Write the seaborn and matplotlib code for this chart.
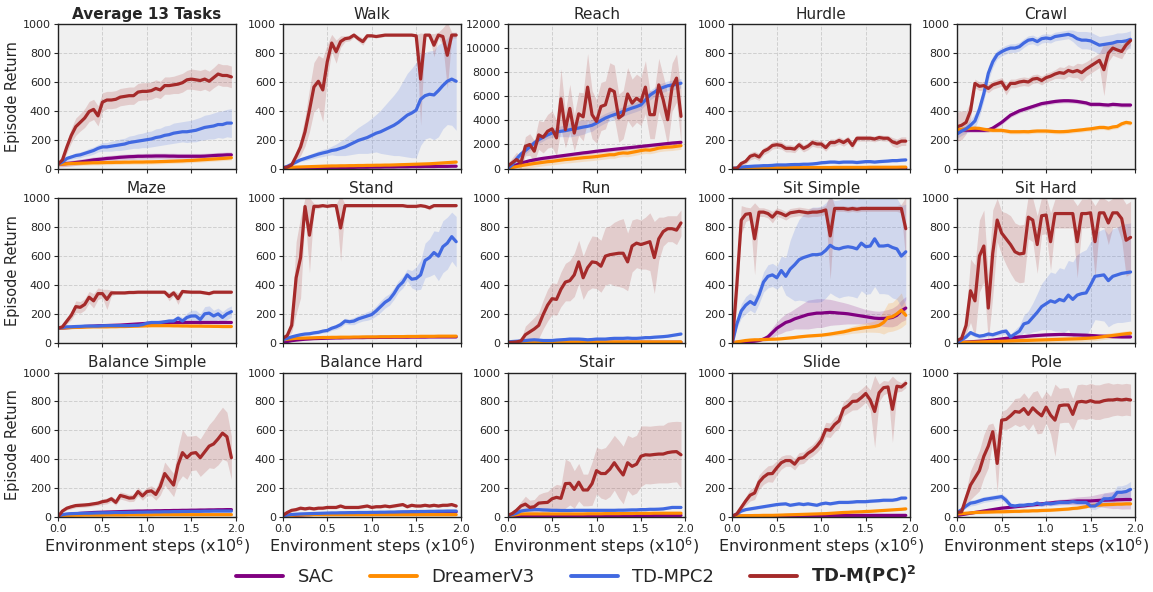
import numpy as np
import matplotlib
matplotlib.use("Agg")
import matplotlib.pyplot as plt
from matplotlib.lines import Line2D
import seaborn as sns

steps = np.linspace(0, 1.95, 40)
methods = ["SAC", "DreamerV3", "TD-MPC2", r"TD-M(PC)$^{\mathbf{2}}$"]
colors = ["#800080", "#ff8c00", "#4169e1", "#a52a2a"]
titles = ["Average 13 Tasks", "Walk", "Reach", "Hurdle", "Crawl",
          "Maze", "Stand", "Run", "Sit Simple", "Sit Hard",
          "Balance Simple", "Balance Hard", "Stair", "Slide", "Pole"]

# ---------------- Average 13 Tasks ----------------
avg_red = [30,60,150,230,290,320,350,395,410,365, 460,475,475,480,495,500,505,505,530,535,
           535,540,555,545,575,575,580,585,595,615, 620,615,610,620,605,630,655,645,645,635]
avg_red_err = [10,20,40,50,60,60,65,70,70,70, 65,60,60,60,60,60,60,60,60,60,
               60,60,60,60,60,60,60,65,65,65, 70,70,70,70,70,70,75,75,75,75]
avg_blue = [30,45,70,80,90,95,105,115,125,140, 150,150,155,160,165,170,180,185,190,195,
            200,205,215,220,230,235,245,250,255,255, 260,265,275,285,290,295,305,305,315,315]
avg_blue_err = [5,10,15,15,20,20,20,25,25,25, 30,30,35,35,40,40,45,45,50,50,
                55,55,60,60,65,65,70,70,70,75, 75,80,80,85,85,90,90,95,95,100]
avg_purple = [30,32,35,38,42,46,50,55,60,63, 66,70,72,75,78,80,82,83,85,85,
              86,86,87,87,87,86,86,85,85,85, 85,85,85,86,88,90,92,93,95,95]
avg_purple_err = 20
avg_orange = [30,31,33,35,36,37,38,39,40,40, 41,42,42,43,43,44,44,45,45,45,
              46,46,47,48,49,50,51,52,53,55, 56,58,60,62,64,66,68,70,72,75]
avg_orange_err = 15

# ---------------- Walk ----------------
walk_red = [5,10,25,85,150,255,405,565,605,545, 740,870,810,880,900,905,925,900,880,920,
            920,915,920,925,925,925,925,925,925,925, 920,620,925,925,855,925,915,785,925,925]
walk_red_err = [3,5,10,30,60,100,150,170,180,220, 120,60,80,40,20,20,15,20,25,15,
                10,10,10,10,10,10,10,10,10,10, 10,320,10,10,80,20,60,230,20,20]
walk_blue = [5,15,30,45,60,70,80,90,100,108, 115,125,130,140,150,165,180,195,205,215,
             230,245,255,270,285,300,320,345,370,385, 405,480,505,515,510,540,575,605,620,605]
walk_blue_err = [3,5,8,10,12,15,18,20,22,25, 25,30,40,50,60,70,80,90,100,110,
                 120,130,150,170,190,210,230,260,290,310, 330,320,300,300,310,320,300,300,320,340]
walk_purple = [3,3,4,4,4,5,5,5,6,6, 6,7,7,7,8,8,8,9,9,9,
               10,10,10,11,11,11,12,12,12,13, 13,13,14,14,14,15,15,15,16,16]
walk_purple_err = 3
walk_orange = [5,6,8,10,11,12,13,14,15,16, 17,18,18,19,19,20,20,21,21,22,
               22,23,23,24,24,25,26,27,28,29, 30,31,32,33,35,37,39,41,43,45]
walk_orange_err = 10

# ---------------- Reach ----------------
reach_red = [200,470,750,470,1850,2000,1440,2800,2600,3100, 3300,2550,5800,3230,5000,2950,4550,4300,6770,4480,
             3920,5160,5300,6600,6400,4200,4480,6200,5440,5850, 5580,6770,4480,4480,6960,5720,4060,6770,7520,4340]
reach_red_err = [200,400,600,500,800,900,900,1200,1300,1400, 1500,1500,2500,1500,2000,1500,1800,2000,2800,2000,
                 1800,2000,2000,2200,2200,2000,2000,2200,2000,2000, 2000,2200,2000,2000,2200,2000,2200,2000,2000,2200]
reach_blue = [0,300,800,1200,1500,1800,2130,2400,2600,2800, 2950,3050,3100,3150,3230,3300,3370,3450,3510,3600,
              3780,4000,4200,4350,4480,4600,4750,4900,5030,5150, 5300,5700,6100,6350,6600,6750,6880,6950,7000,7100]
reach_blue_err = [100,200,300,300,300,300,300,300,300,300, 350,400,450,500,600,600,600,600,500,500,
                  400,400,400,400,400,400,400,400,400,400, 400,400,400,400,400,400,400,400,400,400]
reach_purple = [0,150,300,450,550,650,720,790,850,900, 950,1000,1050,1100,1150,1200,1250,1300,1340,1390,
                1440,1480,1520,1560,1600,1640,1680,1720,1760,1800, 1840,1880,1920,1960,2000,2040,2080,2120,2150,2180]
reach_purple_err = 150
reach_orange = [0,80,160,240,300,360,420,470,520,570, 600,650,700,750,780,820,860,900,930,960,
                1000,1050,1100,1150,1150,1250,1300,1280,1350,1420, 1500,1550,1530,1600,1700,1750,1780,1800,1850,1900]
reach_orange_err = 300

# ---------------- Hurdle ----------------
hurdle_red = [0,0,35,50,85,95,80,120,135,160, 165,160,140,140,135,165,140,155,180,170,
              170,145,180,180,195,180,200,160,210,210, 210,210,205,215,210,210,185,175,190,190]
hurdle_red_err = [2,5,15,20,25,25,25,25,25,25, 25,25,25,25,25,25,25,25,25,25,
                  25,25,25,25,25,25,25,25,20,20, 20,20,20,20,20,20,30,30,30,30]
hurdle_blue = [0,5,10,13,15,17,18,20,20,22, 25,25,25,27,28,28,30,30,32,35,
               40,42,45,45,42,45,45,45,42,45, 48,48,45,48,50,52,55,55,58,60]
hurdle_blue_err = 10
hurdle_purple = [1,2,2,2,3,3,3,3,3,3, 3,3,3,3,3,3,3,3,3,3,
                 3,3,3,3,3,3,3,3,3,3, 3,3,3,3,3,3,3,3,3,3]
hurdle_purple_err = 2
hurdle_orange = [2,3,4,5,5,5,5,5,5,5, 6,6,6,6,6,6,7,7,7,7,
                 7,7,7,8,8,8,8,8,8,8, 8,9,9,9,9,9,9,9,10,10]
hurdle_orange_err = 3

# ---------------- Crawl ----------------
crawl_red = [290,300,320,400,590,570,575,555,580,590, 600,550,590,590,600,605,600,620,625,610,
             630,640,655,665,660,680,670,680,665,690, 710,730,750,685,800,835,822,811,857,887]
crawl_red_err = [100,100,80,60,30,30,30,30,30,30, 30,40,30,30,30,30,30,30,30,30,
                 30,30,30,40,40,40,40,50,60,50, 50,50,50,180,60,50,50,50,40,30]
crawl_blue = [240,260,275,300,330,410,520,660,740,790, 810,825,835,835,845,870,890,895,880,900,
              905,900,915,920,925,930,920,900,890,890, 885,870,855,860,865,870,880,880,885,895]
crawl_blue_err = [30,30,30,40,50,50,50,50,40,30, 30,30,30,30,30,30,30,30,30,30,
                  30,30,30,30,30,30,40,50,60,60, 60,60,60,60,60,60,60,60,60,60]
crawl_purple = [270,268,266,265,265,265,265,268,280,300, 320,345,370,385,400,410,420,430,440,450,
                455,460,465,468,470,470,468,465,460,455, 445,445,445,442,440,445,443,440,440,440]
crawl_purple_err = 15
crawl_orange = [270,272,275,278,280,278,272,268,265,265, 265,260,255,255,255,256,255,258,260,260,
                260,258,256,255,256,258,262,265,268,272, 275,280,285,285,280,288,292,310,320,315]
crawl_orange_err = 15

# ---------------- Maze ----------------
maze_red = [100,110,150,190,250,245,265,315,290,340, 340,300,345,345,345,345,348,348,350,350,
            350,350,350,350,350,320,345,305,355,352, 350,350,350,345,340,350,350,350,350,350]
maze_red_err = [5,10,20,30,40,40,40,40,50,40, 30,70,20,10,10,10,10,10,10,10,
                10,10,10,10,10,30,20,40,15,10, 10,10,10,10,10,10,10,10,10,10]
maze_blue = [100,105,110,110,112,113,115,115,115,115, 117,118,118,118,118,118,118,120,120,125,
             135,140,140,140,145,150,150,170,150,175, 185,185,160,200,205,185,200,175,200,215]
maze_blue_err = [5,5,5,5,5,5,5,5,5,5, 5,5,5,5,5,5,5,8,8,10,
                 10,12,12,12,15,15,20,20,25,30, 40,40,40,50,50,40,40,40,40,40]
maze_purple = [100,102,104,106,108,110,112,114,115,117, 118,119,120,121,122,124,126,128,130,132,
               134,136,138,140,140,140,140,140,140,140, 140,140,140,140,140,140,140,140,140,140]
maze_purple_err = 8
maze_orange = [100,102,104,105,106,107,108,109,110,110, 110,110,111,111,112,112,113,114,115,116,
               117,118,118,118,118,118,117,117,116,116, 115,115,115,114,114,113,113,112,112,112]
maze_orange_err = 8

# ---------------- Stand ----------------
stand_red = [30,50,120,450,590,944,745,945,945,950, 945,950,950,795,950,950,950,950,950,950,
             950,950,950,950,950,950,950,950,945,945, 945,950,945,935,950,950,950,950,950,950]
stand_red_err = [5,10,50,250,280,60,260,20,15,10, 10,10,10,230,10,10,10,10,10,10,
                 10,10,10,10,10,10,10,10,10,10, 10,10,10,15,10,10,10,10,10,10]
stand_blue = [20,30,40,48,55,60,62,68,72,80, 85,100,110,125,150,145,150,165,175,185,
              195,220,250,280,300,340,390,420,470,440, 445,470,570,590,625,600,665,690,735,700]
stand_blue_err = [5,8,10,10,10,10,10,10,12,12, 15,15,18,20,20,20,25,25,25,30,
                  30,35,40,40,40,40,40,40,40,60, 80,100,120,130,150,170,180,180,170,175]
stand_purple = [0,8,14,18,21,24,26,28,29,30, 31,32,33,33,34,34,35,35,35,36,
                36,36,37,37,37,38,38,38,38,39, 39,39,39,40,40,40,40,40,40,40]
stand_purple_err = 5
stand_orange = [20,24,27,30,31,32,33,34,35,36, 36,37,37,38,38,38,39,39,40,40,
                40,40,41,41,41,42,42,42,43,43, 43,44,44,44,44,45,45,45,45,45]
stand_orange_err = 5

# ---------------- Run ----------------
run_red = [0,2,5,12,55,75,95,120,195,260, 305,300,370,420,430,470,560,450,520,560,
           555,530,600,610,615,620,620,560,670,690, 680,690,700,590,720,770,790,790,780,830]
run_red_err = [1,2,3,10,60,70,80,90,100,110, 110,110,120,130,140,150,150,150,160,180,
               180,180,200,200,220,230,240,200,180,170, 170,180,200,250,150,100,90,90,100,90]
run_blue = [5,8,10,12,15,18,20,18,15,15, 15,18,20,22,25,25,25,23,20,22,
            25,25,25,28,30,30,30,32,30,30, 32,35,35,38,40,42,45,50,55,60]
run_blue_err = 8
run_purple = [1,2,2,2,2,3,3,3,3,3, 3,3,3,3,3,3,3,3,3,3,
              3,3,3,3,3,3,3,3,3,3, 3,3,3,3,3,3,3,3,3,3]
run_purple_err = 2
run_orange = [3,3,3,4,4,4,4,5,5,5, 5,5,5,5,5,5,5,5,5,5,
              5,5,5,5,5,5,5,5,5,5, 5,5,5,5,5,5,5,5,5,5]
run_orange_err = 2

# ---------------- Sit Simple ----------------
ss_red = [0,400,850,890,895,720,905,905,895,870, 905,895,880,900,905,910,905,900,905,905,
          910,920,740,930,930,930,925,930,925,930, 930,930,930,930,930,930,930,930,930,790]
ss_red_err = [5,150,100,50,40,250,30,30,30,40, 30,30,30,30,30,30,30,30,30,30,
              30,30,300,20,20,20,20,20,20,20, 20,20,20,20,20,20,20,20,30,220]
ss_blue = [0,130,220,260,285,265,330,420,460,470, 450,500,460,510,540,575,590,600,610,610,
           615,640,675,655,650,660,665,660,650,690, 665,670,720,670,670,675,660,650,600,630]
ss_blue_err = [5,30,50,60,60,60,60,70,80,80, 80,100,130,200,250,280,300,320,330,330,
               330,330,330,330,340,340,340,340,340,330, 330,330,330,330,330,340,350,350,350,330]
ss_purple = [0,2,4,6,8,10,15,25,40,70, 100,120,140,150,165,175,185,195,200,205,
             205,208,210,208,205,203,200,195,190,185, 180,175,170,168,168,170,175,190,220,240]
ss_purple_err = [2,2,3,3,4,5,8,15,25,35, 45,55,60,65,70,80,90,100,100,100,
                 100,95,90,85,80,75,70,65,60,55, 50,50,50,50,55,60,65,70,75,80]
ss_orange = [0,5,10,15,18,20,20,22,23,24, 25,27,30,33,36,40,43,46,48,50,
             52,56,60,65,70,75,82,90,95,100, 105,108,112,120,140,175,180,200,225,190]
ss_orange_err = [2,3,4,5,5,5,5,5,6,6, 6,6,7,7,8,8,8,9,9,10,
                 10,12,14,16,18,20,22,25,28,30, 32,35,40,50,80,100,100,110,120,60]

# ---------------- Sit Hard ----------------
sh_red = [15,30,120,360,290,600,670,240,620,850, 760,720,680,630,615,620,870,850,680,880,
          885,700,895,895,895,895,895,700,895,895, 900,700,900,900,830,900,900,860,710,730]
sh_red_err = [5,15,60,220,250,250,250,230,300,150, 150,180,200,200,200,200,150,150,200,130,
              130,200,100,100,100,100,100,250,100,100, 100,250,100,100,150,100,100,150,250,250]
sh_blue = [0,20,40,70,55,45,50,60,55,65, 75,80,40,60,80,130,140,175,210,250,
           270,290,280,300,290,330,300,330,340,345, 400,460,465,470,430,460,470,480,485,490]
sh_blue_err = [5,8,10,15,15,15,15,15,15,15, 20,20,20,30,40,60,80,100,130,160,
               180,200,200,220,220,240,260,280,290,300, 300,300,310,320,320,330,330,340,340,340]
sh_purple = [0,2,4,6,8,10,12,15,18,22, 26,30,33,36,40,42,45,48,50,52,
             54,55,56,57,57,56,55,54,53,52, 50,48,46,45,44,42,41,40,40,40]
sh_purple_err = 10
sh_orange = [0,1,2,3,4,5,6,7,8,9, 10,11,12,13,14,15,16,17,18,19,
             20,21,22,23,24,25,26,27,28,30, 32,34,38,42,46,50,54,58,62,65]
sh_orange_err = 20

# ---------------- Balance Simple ----------------
bs_red = [0,40,60,70,78,80,82,85,90,95, 105,110,125,100,148,140,130,132,175,145,
          175,180,155,210,300,260,220,360,445,410, 440,445,410,450,490,505,540,580,555,410]
bs_red_err = [2,8,12,15,15,15,15,15,15,15, 20,20,20,20,25,25,25,25,30,30,
              30,35,40,60,80,80,80,120,160,150, 120,120,130,140,150,170,180,180,170,150]
bs_blue = [5,15,20,22,23,24,25,25,26,27, 28,28,29,30,30,30,31,31,32,32,
           33,33,34,34,35,35,36,36,37,37, 38,38,38,39,39,40,40,40,40,40]
bs_blue_err = 8
bs_purple = [5,10,15,18,21,24,26,28,30,31, 32,33,34,35,36,37,38,39,40,40,
             41,41,42,42,43,43,44,44,45,45, 46,46,47,47,48,48,49,49,50,50]
bs_purple_err = 8
bs_orange = [5,8,10,10,11,11,12,12,12,12, 12,13,13,13,13,13,14,14,14,14,
             14,14,15,15,15,15,15,15,15,15, 15,15,15,15,15,15,15,15,15,15]
bs_orange_err = 5

# ---------------- Balance Hard ----------------
bh_red = [10,30,45,50,60,55,60,55,60,60, 65,65,65,75,65,65,65,65,70,75,
          65,70,70,75,70,75,80,85,70,80, 75,75,80,75,80,75,80,80,85,75]
bh_red_err = 10
bh_blue = [5,12,16,18,20,21,22,23,24,25, 26,27,27,28,28,29,29,30,30,30,
           31,31,32,32,33,33,34,35,35,36, 36,37,37,38,38,39,39,40,40,40]
bh_blue_err = 5
bh_purple = [2,5,8,10,12,14,15,17,18,19, 20,21,22,23,24,24,25,25,26,26,
             27,27,28,28,29,29,30,30,31,31, 32,32,33,33,34,34,35,35,35,35]
bh_purple_err = 5
bh_orange = [5,8,10,12,13,14,14,15,15,15, 15,15,15,15,15,15,15,15,15,15,
             15,15,15,15,15,15,15,15,15,15, 15,15,15,15,15,15,15,15,15,15]
bh_orange_err = 4

# ---------------- Stair ----------------
stair_red = [10,22,45,75,88,65,70,95,98,100, 125,135,128,230,232,190,240,186,186,230,
             320,300,300,330,375,330,290,375,350,365, 420,430,428,432,435,435,445,450,452,430]
stair_red_err = [3,8,15,30,55,50,50,60,70,75, 80,90,90,170,150,130,130,110,110,150,
                 160,170,180,190,190,200,200,190,200,200, 210,200,200,200,200,200,210,210,210,230]
stair_blue = [5,15,25,40,45,48,50,50,48,47, 45,45,44,44,44,45,45,45,45,45,
              45,45,45,45,45,46,46,47,48,48, 50,50,52,52,53,55,60,65,65,65]
stair_blue_err = 8
stair_purple = [2,3,3,4,4,4,5,5,5,5, 5,5,6,6,6,6,6,7,7,7,
                7,7,7,8,8,8,8,8,9,9, 9,9,9,10,10,10,10,10,10,10]
stair_purple_err = 3
stair_orange = [5,10,15,20,20,20,20,20,20,20, 20,20,20,20,20,20,20,20,21,21,
                21,21,22,22,22,22,23,23,23,24, 24,24,24,25,25,25,25,25,25,25]
stair_orange_err = 5

# ---------------- Slide ----------------
slide_red = [5,20,65,110,150,165,240,275,298,300, 340,375,390,390,365,405,410,440,460,490,
             530,605,600,640,665,750,770,800,802,826, 855,810,730,860,895,900,745,905,900,925]
slide_red_err = [3,8,20,30,40,45,50,50,55,60, 50,45,40,40,40,40,40,40,40,45,
                 50,50,50,50,50,50,50,60,60,60, 60,70,250,60,50,40,230,40,30,30]
slide_blue = [5,20,40,50,55,60,65,70,75,80, 85,88,90,80,85,90,85,90,85,80,
              90,95,90,95,100,100,100,102,105,105, 105,108,110,112,115,115,115,120,130,130]
slide_blue_err = 10
slide_purple = [3,4,5,5,6,6,7,7,7,8, 8,8,9,9,9,10,10,10,10,10,
                10,10,10,10,10,10,10,10,10,10, 10,10,10,10,10,10,10,10,10,10]
slide_purple_err = 3
slide_orange = [5,6,7,8,8,9,9,10,10,10, 11,12,13,14,15,16,17,18,19,20,
                21,22,24,26,28,30,31,33,34,35, 37,38,40,42,44,46,48,50,52,55]
slide_orange_err = 5

# ---------------- Pole ----------------
pole_red = [30,35,130,220,270,320,420,490,590,370, 670,675,700,730,725,750,710,755,725,700,
            760,705,670,770,775,775,710,795,800,795, 805,795,795,805,810,810,815,810,815,810]
pole_red_err = [10,15,50,100,120,140,150,150,60,200, 60,70,80,90,100,110,110,110,150,120,
                110,130,250,120,120,120,110,120,120,120, 120,120,120,120,120,110,110,110,110,110]
pole_blue = [30,50,75,95,100,110,120,125,130,135, 140,115,80,75,80,80,85,85,95,85,
             95,90,95,100,100,100,105,100,100,100, 75,75,95,125,125,130,170,170,175,190]
pole_blue_err = [10,10,15,20,20,20,20,20,20,20, 20,25,15,15,15,15,15,15,15,15,
                 15,15,15,15,15,15,15,15,15,20, 20,25,30,40,40,40,45,45,50,55]
pole_purple = [10,15,20,25,30,35,40,45,50,55, 60,63,66,70,73,76,80,83,86,90,
               93,96,100,102,104,106,108,110,110,110, 110,112,114,115,116,117,118,119,120,120]
pole_purple_err = [5,5,5,5,5,5,5,8,8,8, 8,10,10,10,10,12,12,12,15,15,
                   15,15,18,20,20,22,25,28,30,32, 35,40,45,50,55,60,60,65,65,65]
pole_orange = [20,22,25,27,30,31,32,33,34,35, 35,36,37,38,38,40,40,42,42,44,
               45,46,48,50,52,54,58,60,65,70, 78,80,82,84,85,86,88,88,90,90]
pole_orange_err = 10

panels = [
    [(avg_purple, avg_purple_err), (avg_orange, avg_orange_err), (avg_blue, avg_blue_err), (avg_red, avg_red_err)],
    [(walk_purple, walk_purple_err), (walk_orange, walk_orange_err), (walk_blue, walk_blue_err), (walk_red, walk_red_err)],
    [(reach_purple, reach_purple_err), (reach_orange, reach_orange_err), (reach_blue, reach_blue_err), (reach_red, reach_red_err)],
    [(hurdle_purple, hurdle_purple_err), (hurdle_orange, hurdle_orange_err), (hurdle_blue, hurdle_blue_err), (hurdle_red, hurdle_red_err)],
    [(crawl_purple, crawl_purple_err), (crawl_orange, crawl_orange_err), (crawl_blue, crawl_blue_err), (crawl_red, crawl_red_err)],
    [(maze_purple, maze_purple_err), (maze_orange, maze_orange_err), (maze_blue, maze_blue_err), (maze_red, maze_red_err)],
    [(stand_purple, stand_purple_err), (stand_orange, stand_orange_err), (stand_blue, stand_blue_err), (stand_red, stand_red_err)],
    [(run_purple, run_purple_err), (run_orange, run_orange_err), (run_blue, run_blue_err), (run_red, run_red_err)],
    [(ss_purple, ss_purple_err), (ss_orange, ss_orange_err), (ss_blue, ss_blue_err), (ss_red, ss_red_err)],
    [(sh_purple, sh_purple_err), (sh_orange, sh_orange_err), (sh_blue, sh_blue_err), (sh_red, sh_red_err)],
    [(bs_purple, bs_purple_err), (bs_orange, bs_orange_err), (bs_blue, bs_blue_err), (bs_red, bs_red_err)],
    [(bh_purple, bh_purple_err), (bh_orange, bh_orange_err), (bh_blue, bh_blue_err), (bh_red, bh_red_err)],
    [(stair_purple, stair_purple_err), (stair_orange, stair_orange_err), (stair_blue, stair_blue_err), (stair_red, stair_red_err)],
    [(slide_purple, slide_purple_err), (slide_orange, slide_orange_err), (slide_blue, slide_blue_err), (slide_red, slide_red_err)],
    [(pole_purple, pole_purple_err), (pole_orange, pole_orange_err), (pole_blue, pole_blue_err), (pole_red, pole_red_err)],
]

sns.set_theme(style="ticks")
plt.rcParams["font.family"] = ["DejaVu Sans"]

fig, axes = plt.subplots(3, 5, figsize=(11.53, 5.92), dpi=100)
fig.subplots_adjust(left=0.0503, right=0.9844, top=0.959, bottom=0.127,
                    wspace=0.264, hspace=0.207)

for i, ax in enumerate(axes.flat):
    ax.set_facecolor("#f0f0f0")
    for (mean, err), c in zip(panels[i], colors):
        m = np.asarray(mean, dtype=float)
        e = np.asarray(err, dtype=float)
        lo = np.clip(m - e, 0, None)
        hi = m + e
        ax.fill_between(steps, lo, hi, color=c, alpha=0.18, lw=0)
        sns.lineplot(x=steps, y=m, ax=ax, color=c, lw=2.3, legend=False)
    ax.set_xlim(0, 2.0)
    if i == 2:
        ax.set_ylim(0, 12000)
        ax.set_yticks(np.arange(0, 12001, 2000))
    else:
        ax.set_ylim(0, 1000)
        ax.set_yticks(np.arange(0, 1001, 200))
    ax.set_xticks([0, 0.5, 1.0, 1.5, 2.0])
    ax.grid(True, ls="--", color="#cfcfcf", lw=0.7)
    for s in ax.spines.values():
        s.set_color("#222222")
        s.set_linewidth(1.0)
    ax.tick_params(labelsize=8, length=3, width=0.8, pad=2)
    row, col = divmod(i, 5)
    if row < 2:
        ax.set_xticklabels([])
    else:
        ax.set_xticklabels(["0.0", "0.5", "1.0", "1.5", "2.0"])
        ax.set_xlabel(r"Environment steps (x10$^6$)", fontsize=11.5, labelpad=1)
    if col == 0:
        ax.set_ylabel("Episode Return", fontsize=10.5, labelpad=2)
    else:
        ax.set_ylabel("")
    ax.set_title(titles[i], fontsize=11, pad=4,
                 fontweight="bold" if i == 0 else "normal")

handles = [Line2D([0], [0], color=c, lw=2.8) for c in colors]
leg = fig.legend(handles, methods, loc="lower center", ncol=4, frameon=False,
                 bbox_to_anchor=(0.5, -0.018), fontsize=13, handlelength=2.6,
                 columnspacing=2.0, handletextpad=0.8)
leg.get_texts()[3].set_fontweight("bold")

fig.savefig("out.png", dpi=100)
